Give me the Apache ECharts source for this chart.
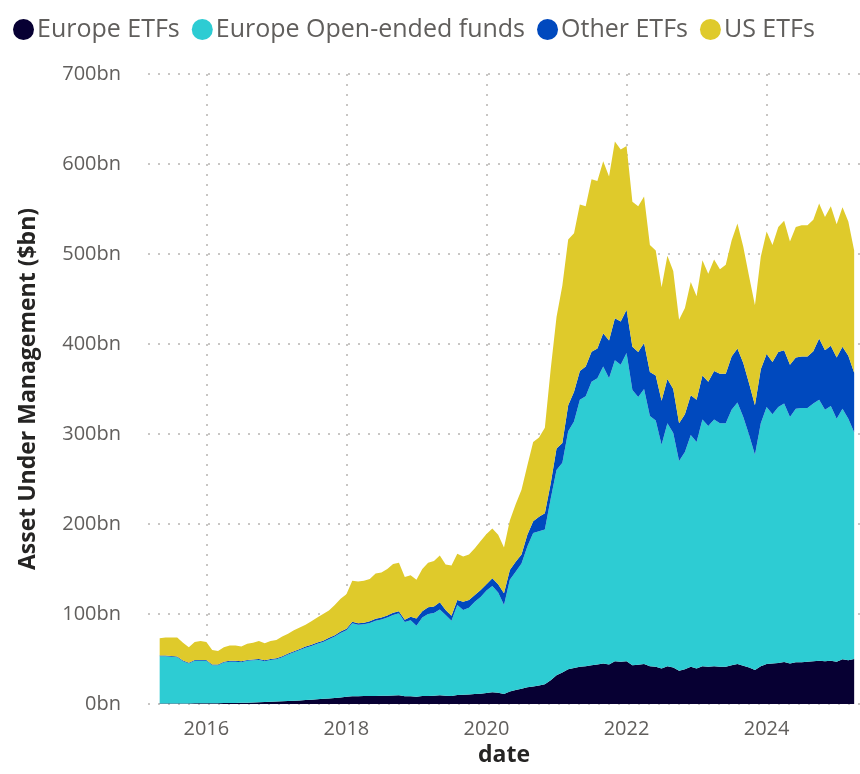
<!DOCTYPE html>
<html>
<head>
<meta charset="utf-8">
<script src="https://cdn.jsdelivr.net/npm/echarts@6/dist/echarts.min.js"></script>
<style>
html, body { margin: 0; padding: 0; background: #fff; }
#main { width: 860px; height: 774px; }
</style>
</head>
<body>
<div id="main"></div>
<script>
var gray = '#605E5C';
var font = "'Segoe UI', 'Open Sans', sans-serif";

// month ends, Apr 2015 .. Mar 2025
var months = [
	'2015-04', '2015-05', '2015-06', '2015-07', '2015-08', '2015-09', '2015-10', '2015-11', '2015-12',
	'2016-01', '2016-02', '2016-03', '2016-04', '2016-05', '2016-06', '2016-07', '2016-08', '2016-09', '2016-10', '2016-11', '2016-12',
	'2017-01', '2017-02', '2017-03', '2017-04', '2017-05', '2017-06', '2017-07', '2017-08', '2017-09', '2017-10', '2017-11', '2017-12',
	'2018-01', '2018-02', '2018-03', '2018-04', '2018-05', '2018-06', '2018-07', '2018-08', '2018-09', '2018-10', '2018-11', '2018-12',
	'2019-01', '2019-02', '2019-03', '2019-04', '2019-05', '2019-06', '2019-07', '2019-08', '2019-09', '2019-10', '2019-11', '2019-12',
	'2020-01', '2020-02', '2020-03', '2020-04', '2020-05', '2020-06', '2020-07', '2020-08', '2020-09', '2020-10', '2020-11', '2020-12',
	'2021-01', '2021-02', '2021-03', '2021-04', '2021-05', '2021-06', '2021-07', '2021-08', '2021-09', '2021-10', '2021-11', '2021-12',
	'2022-01', '2022-02', '2022-03', '2022-04', '2022-05', '2022-06', '2022-07', '2022-08', '2022-09', '2022-10', '2022-11', '2022-12',
	'2023-01', '2023-02', '2023-03', '2023-04', '2023-05', '2023-06', '2023-07', '2023-08', '2023-09', '2023-10', '2023-11', '2023-12',
	'2024-01', '2024-02', '2024-03', '2024-04', '2024-05', '2024-06', '2024-07', '2024-08', '2024-09', '2024-10', '2024-11', '2024-12',
	'2025-01', '2025-02', '2025-03'
];
// empty months either side, the axis runs a little past the data
var padBefore = ['2015-02', '2015-03'];
var padAfter = ['2025-04'];

var europeEtfs = [
	0.5, 0.5, 0.6, 0.6, 0.6, 0.6, 0.7, 0.7, 0.8,
	0.8, 0.9, 1.0, 1.1, 1.2, 1.4, 1.5, 1.7, 1.9, 2.1, 2.4, 2.7,
	3.0, 3.3, 3.6, 4.0, 4.4, 4.8, 5.2, 5.7, 6.2, 6.8, 7.3, 8.0,
	8.5, 8.7, 8.8, 9.0, 9.0, 9.2, 9.3, 9.5, 9.6, 8.6, 8.5, 8.0,
	8.8, 9.0, 9.1, 9.6, 9.2, 8.9, 10.0, 10.2, 10.5, 11.0, 11.5, 12.3,
	13.0, 12.5, 11.0, 14.0, 15.5, 17.0, 18.5, 19.5, 20.5, 22.0, 26.5, 32.0,
	35.0, 38.5, 40.0, 41.5, 42.0, 43.0, 44.0, 45.0, 44.0, 47.4, 47.0, 47.4,
	43.0, 43.5, 44.4, 42.0, 41.5, 39.5, 42.0, 40.5, 37.0, 38.5, 41.5, 39.5,
	42.0, 41.5, 42.0, 41.5, 41.5, 43.0, 44.4, 42.5, 40.5, 37.8, 42.0, 44.4,
	45.0, 45.5, 46.7, 45.0, 46.5, 46.5, 47.0, 47.5, 48.0, 47.4, 48.0, 47.0,
	49.6, 48.5, 50.0
];

var europeOpenEnded = [
	52.5, 52.5, 51.9, 51.4, 46.9, 44.4, 47.3, 47.3, 47.2,
	42.2, 42.1, 45.0, 45.9, 45.8, 45.1, 46.5, 46.8, 47.1, 45.4, 46.6, 46.9,
	49.0, 51.7, 53.9, 56.0, 58.1, 59.7, 61.8, 63.3, 65.8, 68.2, 71.7, 74.0,
	81.1, 79.3, 79.7, 81.0, 83.6, 84.8, 86.7, 89.5, 91.1, 82.4, 84.5, 79.0,
	87.2, 91.0, 91.9, 95.4, 89.8, 83.7, 100.0, 94.2, 96.5, 102.7, 107.5, 113.7,
	118.0, 111.5, 99.0, 124.0, 131.5, 139.0, 156.5, 170.5, 171.5, 172.0, 201.5, 228.0,
	233.0, 264.5, 274.0, 296.5, 300.0, 315.0, 318.0, 330.0, 318.0, 334.6, 330.0, 342.6,
	306.0, 297.5, 305.6, 278.0, 273.5, 248.5, 270.0, 260.5, 233.0, 241.5, 257.5, 251.5,
	274.0, 267.5, 274.0, 270.5, 270.5, 284.0, 290.6, 276.5, 258.5, 239.2, 270.0, 285.6,
	277.0, 284.5, 287.3, 274.0, 281.5, 282.5, 282.0, 286.5, 290.0, 279.6, 283.0, 270.0,
	278.4, 268.5, 252.0
];

var otherEtfs = [
	0.8, 0.8, 0.8, 0.8, 0.8, 0.8, 0.9, 0.9, 0.9,
	0.9, 0.9, 0.9, 1.0, 1.0, 1.0, 1.0, 1.0, 1.0, 1.0, 1.1, 1.1,
	1.1, 1.2, 1.2, 1.2, 1.3, 1.3, 1.4, 1.4, 1.5, 1.5, 1.6, 1.7,
	1.8, 1.8, 1.9, 2.0, 2.0, 2.1, 2.2, 2.3, 2.4, 2.5, 4.0, 8.0,
	7.0, 7.4, 7.3, 8.0, 5.5, 5.4, 5.6, 9.3, 8.6, 7.3, 7.7, 7.0,
	8.6, 9.0, 13.0, 11.0, 11.0, 10.0, 13.0, 13.0, 16.0, 18.0, 17.0, 24.0,
	22.0, 29.0, 33.0, 32.0, 33.0, 33.5, 33.0, 37.0, 42.0, 46.5, 48.0, 48.0,
	48.0, 50.0, 51.0, 49.0, 50.0, 49.0, 49.0, 49.0, 42.0, 42.0, 44.0, 47.0,
	49.0, 49.0, 54.0, 55.0, 55.0, 59.0, 60.0, 60.0, 57.0, 55.0, 60.0, 59.0,
	58.0, 61.0, 59.0, 58.0, 57.0, 57.0, 57.0, 58.0, 68.0, 66.0, 67.0, 68.0,
	69.0, 70.0, 66.0
];

var usEtfs = [
	19.2, 20.2, 20.7, 21.2, 19.7, 17.2, 20.1, 21.1, 20.1,
	16.1, 15.1, 16.1, 17.0, 17.0, 16.5, 18.0, 18.5, 20.0, 19.0, 19.9, 20.3,
	21.9, 21.8, 23.3, 23.8, 24.2, 26.2, 27.6, 29.6, 30.5, 33.5, 36.4, 38.3,
	45.6, 46.2, 46.6, 47.0, 50.4, 49.9, 51.8, 54.2, 53.9, 47.5, 46.0, 43.0,
	47.0, 49.6, 50.7, 52.0, 50.5, 56.0, 51.4, 50.3, 50.4, 52.0, 54.3, 56.0,
	55.4, 55.0, 51.0, 55.0, 64.0, 72.0, 77.0, 88.0, 88.0, 95.0, 127.0, 146.0,
	175.0, 184.0, 176.0, 185.0, 178.0, 191.5, 186.0, 191.0, 182.0, 196.5, 191.0, 182.0,
	161.0, 162.0, 163.0, 141.0, 139.0, 126.0, 137.0, 131.0, 115.0, 118.0, 126.0, 115.0,
	128.0, 120.0, 124.0, 116.0, 121.0, 129.0, 139.0, 129.0, 119.0, 111.0, 125.0, 136.0,
	130.0, 139.0, 144.0, 137.0, 145.0, 146.0, 146.0, 146.0, 150.0, 148.0, 155.0, 148.0,
	155.0, 149.0, 136.0
];

var yTicks = [0, 100, 200, 300, 400, 500, 600, 700];

var axisMonths = padBefore.concat(months, padAfter);

function padded(values) {
	var out = [];
	for(var i = 0; i < padBefore.length; i++) out.push(null);
	out = out.concat(values);
	for(var j = 0; j < padAfter.length; j++) out.push(null);
	return out;
}

// a December month end sits on 1 Jan of the next year; mark the even years
function isEvenYearStart(index, value) {
	var p = value.split('-');
	return p[1] === '12' && (+p[0] + 1) % 2 === 0;
}

function areaSeries(name, color, values) {
	return {
		name: name,
		type: 'line',
		stack: 'aum',
		symbol: 'none',
		smooth: false,
		lineStyle: { width: 0 },
		areaStyle: { color: color, opacity: 1 },
		itemStyle: { color: color },
		data: padded(values)
	};
}

var dotted = {
	color: '#C8C6C4',
	width: 2,
	type: [2, 8]
};

var option = {
	animation: false,
	textStyle: { fontFamily: font },
	legend: {
		left: 8,
		top: 12,
		icon: 'circle',
		itemWidth: 21,
		itemHeight: 21,
		itemGap: 12,
		textStyle: { color: gray, fontSize: 25, fontFamily: font, padding: [0, 0, 0, -2] },
		data: ['Europe ETFs', 'Europe Open-ended funds', 'Other ETFs', 'US ETFs']
	},
	grid: {
		left: 148,
		right: 0,
		top: 74,
		bottom: 70
	},
	xAxis: {
		type: 'category',
		boundaryGap: false,
		data: axisMonths,
		name: 'date',
		nameLocation: 'middle',
		nameGap: 33,
		nameTextStyle: { color: '#252423', fontSize: 23, fontWeight: 'bold', fontFamily: font },
		axisLine: { show: false },
		axisTick: { show: false },
		axisLabel: {
			color: gray,
			fontSize: 20,
			margin: 15,
			interval: isEvenYearStart,
			formatter: function(v) { return String(+v.split('-')[0] + 1); }
		},
		splitLine: { show: true, interval: isEvenYearStart, lineStyle: dotted }
	},
	yAxis: {
		type: 'value',
		min: yTicks[0],
		max: yTicks[yTicks.length - 1],
		interval: 100,
		name: 'Asset Under Management ($bn)',
		nameLocation: 'middle',
		nameGap: 108,
		nameTextStyle: { color: '#252423', fontSize: 23, fontWeight: 'bold', fontFamily: font },
		axisLine: { show: false },
		axisTick: { show: false },
		axisLabel: {
			color: gray,
			fontSize: 20,
			margin: 27,
			formatter: '{value}bn'
		},
		splitLine: { show: true, lineStyle: dotted }
	},
	series: [
		areaSeries('Europe ETFs', '#070033', europeEtfs),
		areaSeries('Europe Open-ended funds', '#2DCCD3', europeOpenEnded),
		areaSeries('Other ETFs', '#0049BE', otherEtfs),
		areaSeries('US ETFs', '#DFCA2B', usEtfs)
	]
};

var chart = echarts.init(document.getElementById('main'));
chart.setOption(option);
</script>
</body>
</html>
